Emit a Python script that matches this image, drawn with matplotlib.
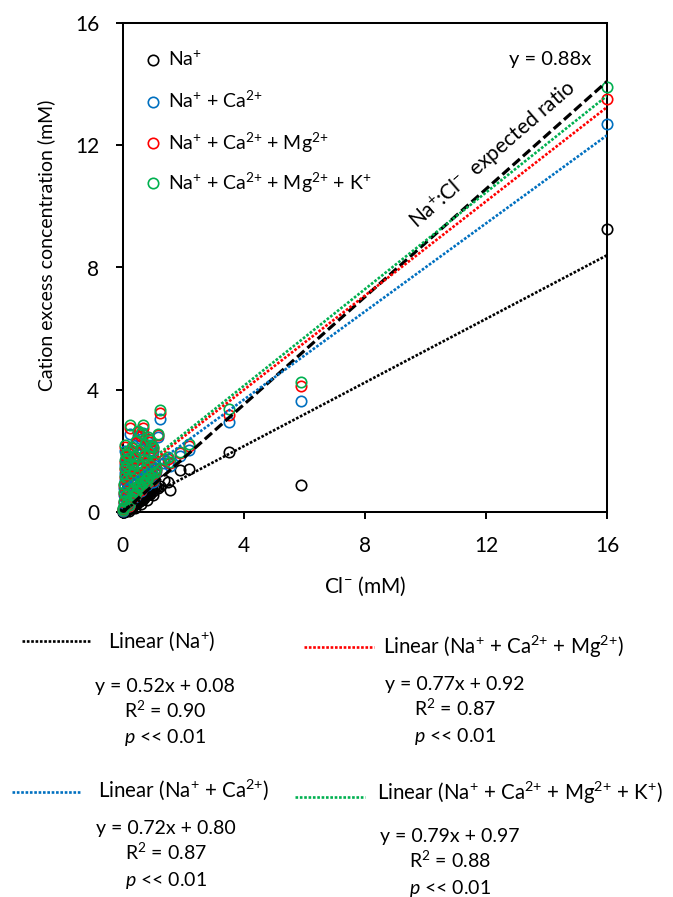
import matplotlib
matplotlib.use('Agg')
import matplotlib.pyplot as plt
import numpy as np
from matplotlib.lines import Line2D

W, H = 673, 897
FAM = ['Lato', 'DejaVu Sans']
plt.rcParams['font.family'] = FAM
plt.rcParams['mathtext.fontset'] = 'custom'
plt.rcParams['mathtext.rm'] = 'Lato'
plt.rcParams['mathtext.it'] = 'Lato:italic'
plt.rcParams['mathtext.bf'] = 'Lato:bold'

# ---------------- data ----------------
cl = [16.0, 5.9, 3.5, 2.2, 1.88, 1.5, 1.55, 1.35, 1.24, 1.18, 0.24, 0.68, 0.52, 0.08, 0.9, 1.0,
      0.02, 0.03, 0.04, 0.05, 0.06, 0.07, 0.09, 0.1, 0.12, 0.13, 0.15, 0.16, 0.18, 0.2, 0.22,
      0.25, 0.27, 0.3, 0.32, 0.35, 0.38, 0.4, 0.42, 0.45, 0.48, 0.5, 0.55, 0.58, 0.6, 0.62,
      0.65, 0.7, 0.72, 0.75, 0.78, 0.8, 0.82, 0.85, 0.88, 0.92, 0.95, 1.05, 1.1,
      0.01, 0.14, 0.28, 0.36, 0.46, 0.56, 0.66, 0.76, 0.86, 0.96, 1.06, 0.2, 0.4, 0.6, 0.8, 1.0]
na = [9.25, 0.9, 1.97, 1.42, 1.39, 0.98, 0.72, 1.05, 0.85, 0.8, 0.15, 0.42, 0.33, 0.05, 0.6, 0.7,
      0.01, 0.02, 0.02, 0.03, 0.04, 0.04, 0.05, 0.06, 0.07, 0.08, 0.09, 0.1, 0.11, 0.12, 0.13,
      0.15, 0.16, 0.18, 0.2, 0.22, 0.24, 0.26, 0.28, 0.3, 0.3, 0.33, 0.36, 0.38, 0.4, 0.42,
      0.44, 0.47, 0.5, 0.52, 0.55, 0.56, 0.6, 0.62, 0.66, 0.7, 0.72, 0.78, 0.82,
      0.0, 0.12, 0.22, 0.3, 0.38, 0.45, 0.55, 0.62, 0.72, 0.8, 0.9, 0.05, 0.15, 0.28, 0.4, 0.55]
na_ca = [12.7, 3.63, 2.95, 2.05, 1.85, 1.62, 1.5, 1.6, 3.06, 2.46, 2.57, 2.6, 2.5, 2.0, 2.2, 2.0,
         0.1, 0.3, 0.55, 0.8, 1.05, 1.3, 1.55, 1.75, 0.45, 0.95, 1.4, 1.85, 0.7, 1.2, 1.6,
         0.35, 1.0, 1.45, 2.0, 0.6, 1.25, 1.7, 0.9, 2.2, 1.5, 0.75, 1.15, 1.9, 0.95, 2.4,
         1.4, 1.75, 1.05, 2.1, 1.3, 1.6, 2.3, 1.2, 1.85, 1.45, 2.05, 1.55, 1.35,
         0.05, 0.25, 0.4, 0.5, 0.62, 0.8, 0.9, 1.0, 1.1, 1.2, 1.25, 0.2, 0.5, 0.7, 0.9, 1.0]
na_ca_mg = [13.5, 4.13, 3.17, 2.18, 1.94, 1.74, 1.6, 1.7, 3.25, 2.53, 2.75, 2.75, 2.62, 2.12, 2.3, 2.1,
            0.12, 0.35, 0.62, 0.88, 1.15, 1.4, 1.65, 1.85, 0.5, 1.02, 1.5, 1.95, 0.76, 1.28, 1.7,
            0.4, 1.07, 1.52, 2.1, 0.66, 1.32, 1.78, 0.95, 2.28, 1.56, 0.8, 1.22, 1.97, 1.0, 2.5,
            1.46, 1.82, 1.1, 2.17, 1.36, 1.66, 2.4, 1.25, 1.92, 1.5, 2.12, 1.6, 1.4,
            0.06, 0.28, 0.45, 0.55, 0.66, 0.85, 0.95, 1.05, 1.15, 1.25, 1.3, 0.22, 0.53, 0.74, 0.95, 1.06]
na_ca_mg_k = [13.9, 4.26, 3.37, 2.24, 1.98, 1.8, 1.65, 1.75, 3.33, 2.57, 2.84, 2.84, 2.66, 2.19, 2.35, 2.15,
              0.15, 0.38, 0.66, 0.93, 1.2, 1.45, 1.7, 1.9, 0.55, 1.08, 1.56, 2.0, 0.8, 1.33, 1.76,
              0.43, 1.12, 1.58, 2.15, 0.7, 1.37, 1.83, 1.0, 2.33, 1.6, 0.84, 1.26, 2.02, 1.04, 2.58,
              1.5, 1.87, 1.14, 2.22, 1.4, 1.7, 2.45, 1.3, 1.97, 1.55, 2.17, 1.64, 1.45,
              0.07, 0.3, 0.48, 0.58, 0.7, 0.88, 0.98, 1.08, 1.18, 1.28, 1.33, 0.24, 0.56, 0.78, 0.98, 1.1]

NA, CA, MG, K = 'Na$^{+}$', 'Ca$^{2{+}}$', 'Mg$^{2{+}}$', 'K$^{+}$'
series_labels = [NA, NA + ' + ' + CA, NA + ' + ' + CA + ' + ' + MG,
                 NA + ' + ' + CA + ' + ' + MG + ' + ' + K]
series_colors = ['#000000', '#0070C0', '#FF0000', '#00B050']
fit_slopes = [0.52, 0.72, 0.77, 0.79]
fit_intercepts = [0.08, 0.80, 0.92, 0.97]
fit_r2 = ['0.90', '0.87', '0.87', '0.88']
expected_slope = 0.88
ticks = [0, 4, 8, 12, 16]

# ---------------- figure ----------------
def fx(px):
    return px / W

def fy(py):
    return 1 - py / H

AX_L, AX_R, AX_T, AX_B = 122.7, 607, 22.7, 512.3
fig = plt.figure(figsize=(W / 100, H / 100), dpi=100)
ax = fig.add_axes([fx(AX_L), fy(AX_B), fx(AX_R) - fx(AX_L), fy(AX_T) - fy(AX_B)])

ys = [na, na_ca, na_ca_mg, na_ca_mg_k]
for y, c in zip(ys, series_colors):
    ax.plot(cl, y, linestyle='none', marker='o', markersize=7.5, markerfacecolor='none',
            markeredgecolor=c, markeredgewidth=1.2, clip_on=False, zorder=3)

xf = np.array([0, 16])
ax.plot(xf, expected_slope * xf, color='black', lw=2.3, linestyle=(0, (3.0, 1.3)), zorder=4)
for m, b, c in zip(fit_slopes, fit_intercepts, series_colors):
    ax.plot(xf, m * xf + b, color=c, lw=1.9, linestyle=(0, (1, 0.65)), zorder=4)

ax.set_xlim(0, 16)
ax.set_ylim(0, 16)
ax.set_xticks(ticks)
ax.set_yticks(ticks)
ax.tick_params(direction='out', length=5, width=1.4, labelsize=15, pad=12)
for s in ax.spines.values():
    s.set_linewidth(1.45)

fig.text(fx((AX_L + AX_R) / 2), fy(586), 'Cl$^{-}$ (mM)', fontsize=15, ha='center', va='center')
fig.text(fx(46), fy(245), 'Cation excess concentration (mM)', fontsize=14,
         ha='center', va='center', rotation=90)

# legend inside the plot
leg_rows = [60, 101.7, 143.3, 183.3]
for lab, c, ry in zip(series_labels, series_colors, leg_rows):
    fig.add_artist(Line2D([fx(153.3)], [fy(ry)], transform=fig.transFigure, linestyle='none',
                          marker='o', markersize=7.5, markerfacecolor='none',
                          markeredgecolor=c, markeredgewidth=1.2))
    fig.text(fx(168), fy(ry + 6.5), lab, fontsize=14, ha='left', va='baseline')

fig.text(fx(591), fy(58 + 6.5), 'y = 0.88x', fontsize=14.5, ha='right', va='baseline')
fig.text(fx(493), fy(155), 'Na$^{+}$:Cl$^{-}$  expected ratio', fontsize=15, ha='center',
         va='center', rotation=41, rotation_mode='anchor')

# ---------------- bottom trendline legend ----------------
entries = [
    # line x0, x1, line y ; text x, text y ; equation centre x ; equation y
    (22, 91, 641, 108, 641, 165, 685),
    (12, 81, 792, 98, 790, 166, 827),
    (304, 374, 647, 383, 647, 455, 683),
    (295, 365, 797, 377, 793, 450, 835),
]
lin_labels = ['Linear (' + lab + ')' for lab in series_labels]
for i, (x0, x1, ly, tx, ty, ex, ey) in enumerate(entries):
    fig.add_artist(Line2D([fx(x0), fx(x1)], [fy(ly), fy(ly)], transform=fig.transFigure,
                          color=series_colors[i], lw=1.9, linestyle=(0, (1, 0.65))))
    fig.text(fx(tx), fy(ty + 7), lin_labels[i], fontsize=14.8, ha='left', va='baseline')
    fig.text(fx(ex), fy(ey + 6.5), 'y = %.2fx + %.2f' % (fit_slopes[i], fit_intercepts[i]),
             fontsize=14, ha='center', va='baseline')
    fig.text(fx(ex), fy(ey + 26 + 6.5), 'R$^{2}$ = ' + fit_r2[i], fontsize=14, ha='center',
             va='baseline')
    fig.text(fx(ex), fy(ey + 52 + 6.5), r'$\mathit{p}$ << 0.01', fontsize=14, ha='center',
             va='baseline')

fig.savefig('out.png', dpi=100)
